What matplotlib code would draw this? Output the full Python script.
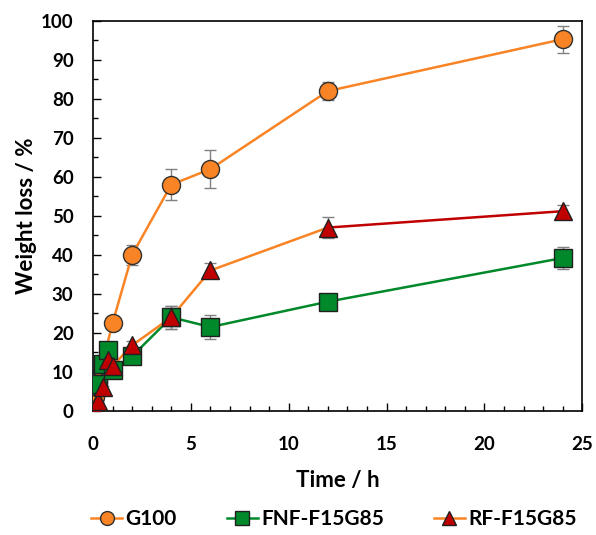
import numpy as np
import matplotlib.pyplot as plt
from matplotlib.ticker import MultipleLocator
from matplotlib.lines import Line2D

plt.rcParams['font.family'] = ['Lato', 'DejaVu Sans']
plt.rcParams['font.weight'] = 'bold'

# time points (h)
t_g100 = [0.083, 0.25, 1, 2, 4, 6, 12, 24]
g100 = [3.5, 7.5, 22.5, 40, 58, 62, 82, 95.3]
g100_err = [0.5, 0.5, 1.0, 2.5, 4.0, 4.8, 2.2, 3.5]

t_fnf = [0.083, 0.25, 0.5, 0.75, 1, 2, 4, 6, 12, 24]
fnf = [6.5, 7.0, 12.0, 15.5, 10.5, 14.0, 24.0, 21.5, 28.0, 39.2]
fnf_err = [0.5, 0.5, 0.8, 0.8, 0.8, 1.0, 3.0, 3.0, 2.0, 2.7]

t_rf = [0.083, 0.25, 0.5, 0.75, 1, 2, 4, 6, 12, 24]
rf = [1.0, 2.5, 6.0, 13.0, 11.5, 16.8, 24.0, 36.0, 47.0, 51.2]
rf_err = [0.3, 0.3, 0.5, 0.8, 0.8, 1.0, 3.0, 2.0, 2.7, 1.5]

orange = '#F98425'
green = '#00892B'
red = '#C00000'

fig = plt.figure(figsize=(5.96, 5.35), dpi=100)
ax = fig.add_axes([0.156, 0.232, 0.821, 0.729])

ebkw = dict(ecolor='#808080', elinewidth=1.0, capsize=4, capthick=1.0, linestyle='none', zorder=2)
ax.errorbar(t_g100, g100, yerr=g100_err, **ebkw)
ax.errorbar(t_fnf, fnf, yerr=fnf_err, **ebkw)
ax.errorbar(t_rf, rf, yerr=rf_err, **ebkw)

ax.plot(t_g100, g100, '-', color=orange, lw=1.8, zorder=3)
ax.plot(t_fnf, fnf, '-', color=green, lw=1.8, zorder=3)
ax.plot(t_rf[:-1], rf[:-1], '-', color=orange, lw=1.8, zorder=3)
ax.plot(t_rf[-2:], rf[-2:], '-', color=red, lw=1.8, zorder=3)

ax.plot(t_g100, g100, 'o', ms=13, mfc=orange, mec='#303030', mew=1.0, zorder=4)
ax.plot(t_fnf, fnf, 's', ms=12.5, mfc=green, mec='#202020', mew=1.0, zorder=4)
ax.plot(t_rf, rf, '^', ms=13, mfc=red, mec='#202020', mew=1.0, zorder=5)

ax.set_xlim(0, 25)
ax.set_ylim(0, 100)
ax.xaxis.set_major_locator(MultipleLocator(5))
ax.xaxis.set_minor_locator(MultipleLocator(1))
ax.yaxis.set_major_locator(MultipleLocator(10))
ax.yaxis.set_minor_locator(MultipleLocator(5))
ax.tick_params(which='both', direction='in', top=False, right=False, labelsize=13.5)
ax.tick_params(axis='x', pad=18)
ax.tick_params(axis='y', pad=14)
ax.tick_params(which='major', length=6, width=1)
ax.tick_params(which='minor', length=3.5, width=1)
for s in ax.spines.values():
    s.set_linewidth(1.2)

ax.set_xlabel('Time / h', fontsize=16, fontweight='bold', labelpad=12)
ax.set_ylabel('Weight loss / %', fontsize=16, fontweight='bold', labelpad=3)

handles = [
    Line2D([], [], color=orange, lw=1.8, marker='o', ms=10, mfc=orange, mec='#303030'),
    Line2D([], [], color=green, lw=1.8, marker='s', ms=10, mfc=green, mec='#202020'),
    Line2D([], [], color=orange, lw=1.8, marker='^', ms=10, mfc=red, mec='#202020'),
]
fig.legend(handles, ['G100', 'FNF-F15G85', 'RF-F15G85'], loc='center', bbox_to_anchor=(0.56, 0.03),
           ncol=3, frameon=False, fontsize=15, handlelength=1.5, columnspacing=2.4, handletextpad=0.15,
           borderpad=0.1)

fig.savefig('out.png', dpi=100)
